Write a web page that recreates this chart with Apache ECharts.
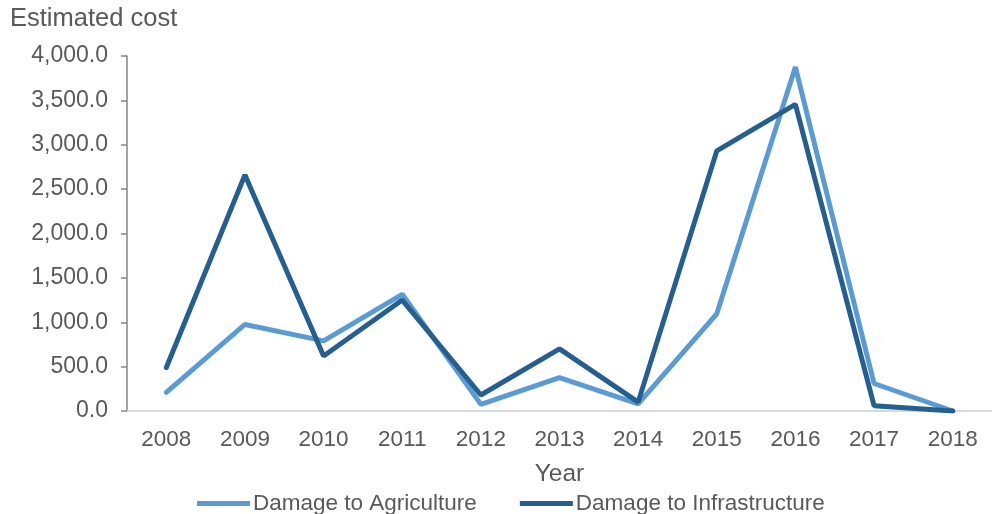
<!DOCTYPE html>
<html>
<head>
<meta charset="utf-8">
<script src="https://cdn.jsdelivr.net/npm/echarts@6/dist/echarts.min.js"></script>
<style>
html,body{margin:0;padding:0;background:#fff;}
#c{width:992px;height:514px;}
</style>
</head>
<body>
<div id="c"></div>
<script>
const years = ['2008','2009','2010','2011','2012','2013','2014','2015','2016','2017','2018'];
const agriculture = [210, 975, 790, 1315, 75, 375, 80, 1095, 3875, 310, 0];
const infrastructure = [490, 2660, 620, 1250, 180, 700, 100, 2930, 3455, 60, 0];
const seriesNames = ['Damage to Agriculture', 'Damage to Infrastructure'];
const yTicks = {min: 0, max: 4000, interval: 500};

const font = 'Liberation Sans, Arial, sans-serif';
const txt = '#595959';
const chart = echarts.init(document.getElementById('c'), null, {renderer: 'canvas'});
chart.setOption({
  animation: false,
  backgroundColor: '#fff',
  title: {
    text: 'Estimated cost', left: 5, top: 1,
    textStyle: {fontFamily: font, fontSize: 25.5, fontWeight: 'normal', color: txt}
  },
  grid: {left: 127, top: 56, height: 355, width: 873, containLabel: false},
  legend: {
    data: seriesNames, top: 487, left: 192,
    itemWidth: 53, itemHeight: 5, itemGap: 43, icon: 'rect',
    textStyle: {fontFamily: font, fontSize: 22.5, color: txt, padding: [0, 0, 0, -2]}
  },
  xAxis: {
    type: 'category', data: years, boundaryGap: true,
    name: 'Year', nameLocation: 'middle', nameGap: 51,
    nameTextStyle: {fontFamily: font, fontSize: 24.5, color: txt},
    axisLine: {lineStyle: {color: '#d9d9d9', width: 2}},
    axisTick: {show: false},
    axisLabel: {fontFamily: font, fontSize: 22.5, color: txt, margin: 17}
  },
  yAxis: {
    type: 'value', min: yTicks.min, max: yTicks.max, interval: yTicks.interval,
    axisLine: {show: true, lineStyle: {color: '#868686', width: 1.5}},
    axisTick: {show: true, length: 6, lineStyle: {color: '#868686', width: 1.5}},
    splitLine: {show: false},
    axisLabel: {
      fontFamily: font, fontSize: 23, color: txt, margin: 19,
      formatter: v => v.toLocaleString('en-US', {minimumFractionDigits: 1, maximumFractionDigits: 1})
    }
  },
  series: [
    {name: seriesNames[0], type: 'line', data: agriculture, symbol: 'none',
     itemStyle: {color: '#5B9BD5'}, lineStyle: {color: '#5B9BD5', width: 5, cap: 'round'}},
    {name: seriesNames[1], type: 'line', data: infrastructure, symbol: 'none',
     itemStyle: {color: '#255E91'}, lineStyle: {color: '#255E91', width: 5, cap: 'round'}}
  ]
});
</script>
</body>
</html>
